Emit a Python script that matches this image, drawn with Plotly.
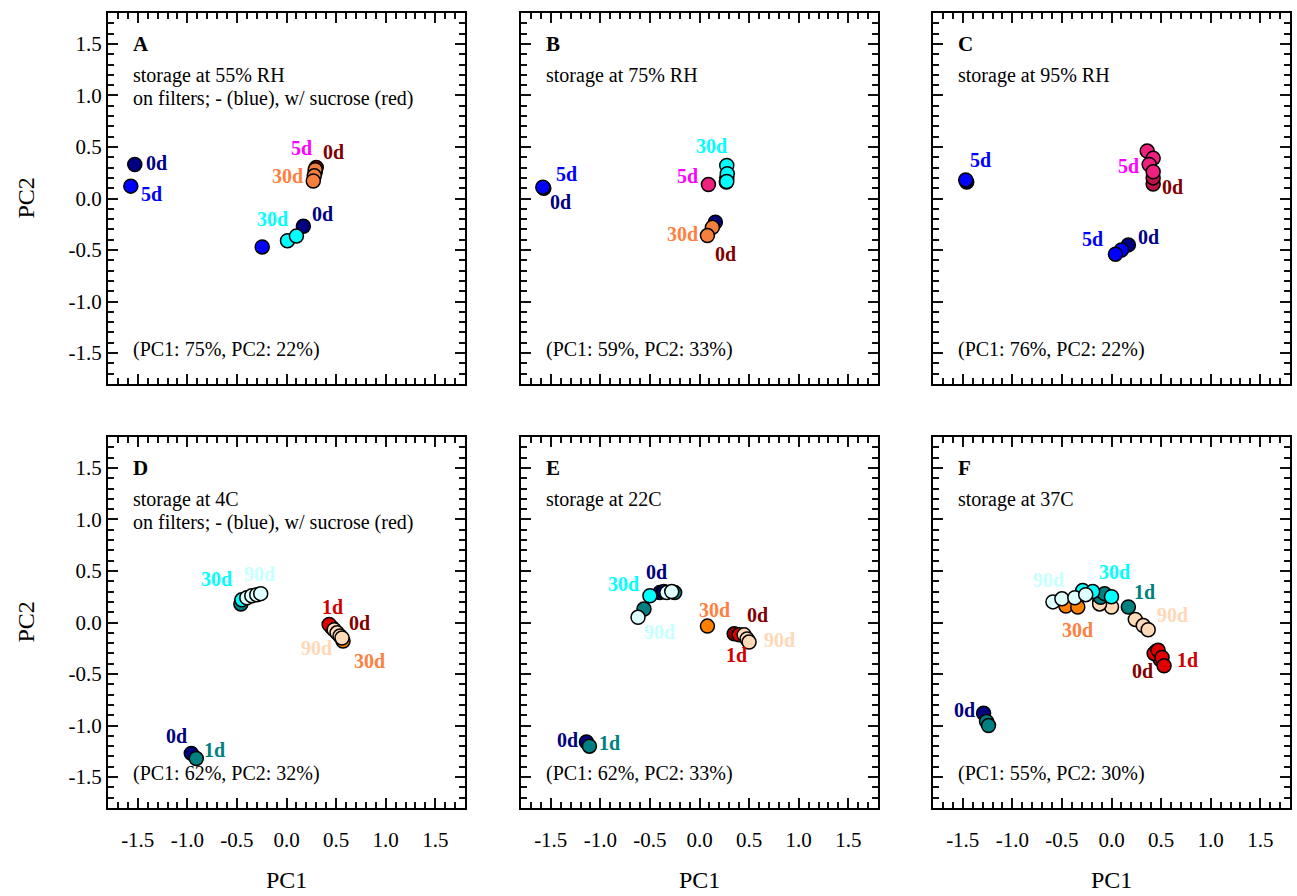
import plotly.graph_objects as go

# ---------------- colours ----------------
NAVY = "#000080"
BLUE = "#0000FF"
CYAN = "#00FFFF"
DARKRED = "#8B0000"
PINK = "#F0207F"
MAGENTA = "#FF00FF"
ORANGE = "#F5803E"
DORANGE = "#FF8000"
TEAL = "#008080"
LCYAN = "#E0FFFF"
RED = "#E00000"
PEACH = "#FFDAB9"

# ---------------- data (PC1, PC2) ----------------
# Panel A : storage at 55% RH
A_colors = [NAVY, BLUE, CYAN, DARKRED, PINK, ORANGE]
A_x = [[-1.53, 0.17], [-1.57, -0.245], [0.01, 0.10], [0.30], [0.29], [0.29, 0.28, 0.27]]
A_y = [[0.33, -0.27], [0.12, -0.47], [-0.41, -0.365], [0.30], [0.26], [0.28, 0.22, 0.17]]

# Panel B : storage at 75% RH
B_colors = [NAVY, BLUE, DARKRED, PINK, CYAN, ORANGE]
B_x = [[-1.57, 0.16], [-1.58], [0.275, 0.27], [0.09], [0.275, 0.28, 0.275], [0.13, 0.08]]
B_y = [[0.10, -0.23], [0.11], [0.20, 0.16], [0.135], [0.32, 0.24, 0.165], [-0.28, -0.36]]

# Panel C : storage at 95% RH
C_colors = [NAVY, BLUE, "#C0104A", PINK]
C_x = [[-1.46, 0.17], [-1.47, 0.10, 0.04], [0.42, 0.42], [0.36, 0.42, 0.38, 0.42]]
C_y = [[0.16, -0.45], [0.18, -0.50, -0.54], [0.14, 0.20], [0.46, 0.39, 0.33, 0.26]]

# Panel D : storage at 4C
D_colors = [NAVY, TEAL, CYAN, LCYAN, DARKRED, RED, DORANGE, PEACH]
D_x = [[-0.96], [-0.91, -0.46], [-0.45], [-0.40, -0.35, -0.30, -0.26],
       [0.46], [0.43], [0.57], [0.48, 0.51, 0.54, 0.56]]
D_y = [[-1.27], [-1.32, 0.18], [0.22], [0.24, 0.26, 0.27, 0.28],
       [-0.05], [-0.02], [-0.18], [-0.07, -0.10, -0.13, -0.15]]

# Panel E : storage at 22C
E_colors = [NAVY, TEAL, LCYAN, CYAN, DORANGE, DARKRED, RED, PEACH]
E_x = [[-1.14, -0.40, -0.36], [-1.11, -0.56, -0.25], [-0.62, -0.33, -0.28], [-0.50],
       [0.08], [0.35], [0.40], [0.45, 0.48, 0.50]]
E_y = [[-1.16, 0.29, 0.30], [-1.20, 0.13, 0.29], [0.05, 0.29, 0.30], [0.26],
       [-0.035], [-0.11], [-0.12], [-0.12, -0.16, -0.19]]

# Panel F : storage at 37C
F_colors = [NAVY, DORANGE, PEACH, TEAL, CYAN, LCYAN, DARKRED, RED]
F_x = [[-1.29], [-0.46, -0.34, -0.12], [0.00, -0.12, 0.24, 0.32, 0.37],
       [-1.26, -1.24, -0.11, -0.07, 0.17], [-0.29, -0.19, 0.00],
       [-0.59, -0.50, -0.37, -0.26], [0.45, 0.49], [0.43, 0.47, 0.51, 0.53]]
F_y = [[-0.88], [0.16, 0.15, 0.20], [0.15, 0.18, 0.03, -0.03, -0.07],
       [-0.96, -1.00, 0.245, 0.28, 0.15], [0.31, 0.30, 0.25],
       [0.20, 0.23, 0.24, 0.27], [-0.28, -0.36], [-0.30, -0.27, -0.34, -0.42]]

# point labels: (text, colour, x, y)
A_labels = [("0d", NAVY, -1.31, 0.34), ("5d", BLUE, -1.36, 0.04), ("5d", MAGENTA, 0.15, 0.49),
            ("0d", "#800000", 0.47, 0.45), ("30d", "#FF7F3F", 0.01, 0.22),
            ("30d", CYAN, -0.14, -0.20), ("0d", NAVY, 0.36, -0.15)]
B_labels = [("5d", BLUE, -1.34, 0.24), ("0d", NAVY, -1.40, -0.03), ("30d", CYAN, 0.12, 0.51),
            ("5d", MAGENTA, -0.12, 0.22), ("30d", "#FF7F3F", -0.17, -0.34), ("0d", "#800000", 0.26, -0.54)]
C_labels = [("5d", BLUE, -1.32, 0.37), ("5d", MAGENTA, 0.17, 0.32), ("0d", "#800000", 0.62, 0.11),
            ("5d", BLUE, -0.19, -0.39), ("0d", NAVY, 0.37, -0.37)]
D_labels = [("30d", CYAN, -0.71, 0.42), ("90d", "#C8FFFF", -0.27, 0.47), ("1d", "#D00000", 0.46, 0.15),
            ("0d", "#800000", 0.74, 0.0), ("90d", "#FFD8B8", 0.30, -0.25), ("30d", "#FF7F3F", 0.84, -0.37),
            ("0d", NAVY, -1.11, -1.10), ("1d", TEAL, -0.73, -1.24)]
E_labels = [("0d", NAVY, -0.43, 0.49), ("30d", CYAN, -0.77, 0.37), ("90d", "#C8FFFF", -0.40, -0.09),
            ("30d", "#FF7F3F", 0.15, 0.12), ("0d", "#800000", 0.58, 0.07), ("90d", "#FFD8B8", 0.81, -0.17),
            ("1d", "#D00000", 0.37, -0.32), ("0d", NAVY, -1.33, -1.14), ("1d", TEAL, -0.91, -1.17)]
F_labels = [("90d", "#C8FFFF", -0.64, 0.41), ("30d", CYAN, 0.03, 0.49), ("1d", TEAL, 0.33, 0.30),
            ("90d", "#FFD8B8", 0.62, 0.07), ("30d", "#FF7F3F", -0.34, -0.07), ("1d", "#D00000", 0.77, -0.36),
            ("0d", "#800000", 0.31, -0.47), ("0d", NAVY, -1.48, -0.85)]

panel_letters = ["A", "B", "C", "D", "E", "F"]
panel_texts = [["storage at 55% RH", "on filters; - (blue), w/ sucrose (red)"],
               ["storage at 75% RH"], ["storage at 95% RH"],
               ["storage at 4C", "on filters; - (blue), w/ sucrose (red)"],
               ["storage at 22C"], ["storage at 37C"]]
variance_texts = ["(PC1: 75%, PC2: 22%)", "(PC1: 59%, PC2: 33%)", "(PC1: 76%, PC2: 22%)",
                  "(PC1: 62%, PC2: 32%)", "(PC1: 62%, PC2: 33%)", "(PC1: 55%, PC2: 30%)"]

tick_vals = [-1.5, -1.0, -0.5, 0.0, 0.5, 1.0, 1.5]
tick_text = ["-1.5", "-1.0", "-0.5", "0.0", "0.5", "1.0", "1.5"]
minor_vals = [round(-1.7 + 0.1 * k, 1) for k in range(35)]
AX_RANGE = [-1.8, 1.8]

panels = [(A_colors, A_x, A_y, A_labels), (B_colors, B_x, B_y, B_labels),
          (C_colors, C_x, C_y, C_labels), (D_colors, D_x, D_y, D_labels),
          (E_colors, E_x, E_y, E_labels), (F_colors, F_x, F_y, F_labels)]

# ---------------- layout geometry ----------------
W, H = 1297, 896
col_left = [108, 521, 933]
row_top = [13, 437]
pw, ph = 357, 371
FONT = "Liberation Serif, Times New Roman, serif"

fig = go.Figure()
annotations = []
layout = {}

for i, (cols, xs, ys, labels) in enumerate(panels):
    r, c = divmod(i, 3)
    n = i + 1
    xa = "xaxis" if n == 1 else f"xaxis{n}"
    ya = "yaxis" if n == 1 else f"yaxis{n}"
    xr = "x" if n == 1 else f"x{n}"
    yr = "y" if n == 1 else f"y{n}"
    L = col_left[c]
    T = row_top[r]
    common = dict(range=AX_RANGE, tickmode="array", tickvals=tick_vals, ticktext=tick_text,
                  ticks="inside", ticklen=10, tickwidth=2, tickcolor="#111111",
                  showline=True, linecolor="black", linewidth=2, mirror="allticks",
                  showgrid=False, zeroline=False,
                  tickfont=dict(family=FONT, size=21, color="black"),
                  minor=dict(tickmode="array", tickvals=minor_vals, ticks="inside",
                             ticklen=6, tickwidth=1.6, tickcolor="#111111"))
    layout[xa] = dict(common, domain=[L / W, (L + pw) / W], anchor=yr,
                      showticklabels=(r == 1), ticklabelstandoff=12)
    layout[ya] = dict(common, domain=[1 - (T + ph) / H, 1 - T / H], anchor=xr,
                      showticklabels=(c == 0), ticksuffix="\u2002\u2009")

    for col, xx, yy in zip(cols, xs, ys):
        fig.add_trace(go.Scatter(x=xx, y=yy, mode="markers", xaxis=xr, yaxis=yr,
                                 showlegend=False, hoverinfo="skip",
                                 marker=dict(size=14, color=col,
                                             line=dict(color="black", width=1.5))))
    for txt, col, lx, ly in labels:
        annotations.append(dict(x=lx, y=ly, xref=xr, yref=yr, text=f"<b>{txt}</b>",
                                showarrow=False, xanchor="center", yanchor="middle",
                                font=dict(family=FONT, size=20, color=col)))
    annotations.append(dict(x=-1.57, y=1.50, xref=xr, yref=yr, text=f"<b>{panel_letters[i]}</b>",
                            showarrow=False, xanchor="left", yanchor="middle",
                            font=dict(family=FONT, size=21, color="black")))
    for k, t in enumerate(panel_texts[i]):
        annotations.append(dict(x=-1.57, y=1.19 - 0.22 * k, xref=xr, yref=yr, text=t,
                                showarrow=False, xanchor="left", yanchor="middle",
                                font=dict(family=FONT, size=20, color="black")))
    annotations.append(dict(x=-1.57, y=-1.47, xref=xr, yref=yr, text=variance_texts[i],
                            showarrow=False, xanchor="left", yanchor="middle",
                            font=dict(family=FONT, size=20, color="black")))

# axis titles
for r in range(2):
    annotations.append(dict(x=25 / W, y=1 - (row_top[r] + ph / 2) / H, xref="paper", yref="paper",
                            text="PC2", textangle=-90, showarrow=False,
                            xanchor="center", yanchor="middle",
                            font=dict(family=FONT, size=24, color="black")))
for c in range(3):
    annotations.append(dict(x=(col_left[c] + pw / 2) / W, y=1 - 880 / H, xref="paper", yref="paper",
                            text="PC1", showarrow=False, xanchor="center", yanchor="middle",
                            font=dict(family=FONT, size=24, color="black")))

fig.update_layout(width=W, height=H, autosize=False,
                  margin=dict(l=0, r=0, t=0, b=0, pad=0),
                  paper_bgcolor="white", plot_bgcolor="white",
                  annotations=annotations, **layout)

fig.write_html("out.html")
